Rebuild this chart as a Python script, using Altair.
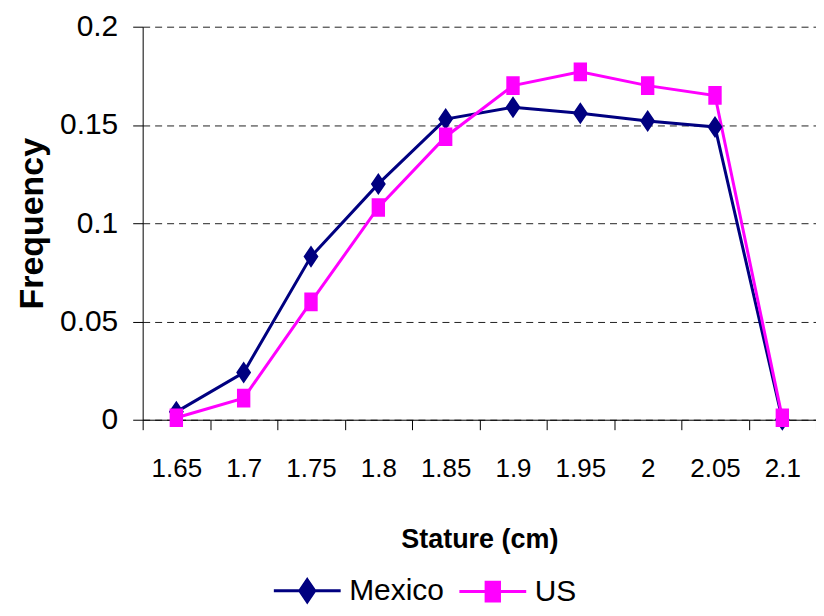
import altair as alt
import pandas as pd

# ---- data ----
stature = ["1.65", "1.7", "1.75", "1.8", "1.85", "1.9", "1.95", "2", "2.05", "2.1"]
mexico = [0.004, 0.024, 0.083, 0.120, 0.153, 0.159, 0.156, 0.152, 0.149, 0.000]
us = [0.001, 0.011, 0.060, 0.108, 0.144, 0.170, 0.177, 0.170, 0.165, 0.001]
series_names = ["Mexico", "US"]
series_colors = ["#000080", "#FF00FF"]
y_ticks = [0, 0.05, 0.1, 0.15, 0.2]

rows = []
for name, vals in zip(series_names, [mexico, us]):
    for s, v in zip(stature, vals):
        rows.append({"stature": s, "freq": v, "series": name})
df = pd.DataFrame(rows)

FONT = "Liberation Sans, Arial, sans-serif"

# marker shapes: an (unstroked in the plot) line segment plus the filled marker,
# so the same path gives the "line + marker" legend symbol
SYM_MEX = "M-1,0L1,0M0,-0.33L0.224,0L0,0.33L-0.224,0Z"
SYM_US = "M-1,0L1,0M-0.2,-0.28L0.2,-0.28L0.2,0.28L-0.2,0.28Z"

LEGEND = alt.Legend(
    orient="none", legendX=130, legendY=530, direction="horizontal",
    title=None, symbolSize=4489, symbolStrokeWidth=3,
    labelFontSize=30, labelFont=FONT, labelColor="black",
    labelOffset=7, columnPadding=8, padding=0,
)

x = alt.X(
    "stature:O", sort=stature,
    scale=alt.Scale(type="band", paddingInner=0, paddingOuter=0),
    axis=alt.Axis(
        tickBand="extent", labelAngle=0, labelFontSize=26, labelFont=FONT,
        labelPadding=39, labelBaseline="middle", tickSize=10, grid=False,
        title="Stature (cm)", titleFontSize=27, titleFont=FONT, titleFontWeight="bold",
        titleY=120, titleBaseline="middle",
        domainColor="black", tickColor="black", labelColor="black", titleColor="black",
    ),
)
y_axis = alt.Axis(
    values=y_ticks, format="~g", grid=True, gridDash=[7, 5], gridColor="#222222",
    tickSize=10, labelFontSize=30, labelFont=FONT, labelPadding=15, labelBaseline="middle",
    title="Frequency", titleFontSize=34, titleFont=FONT, titleFontWeight="bold",
    titleX=-110, titleY=197, titleAngle=270, titleBaseline="middle", titleAlign="center",
    domainColor="black", tickColor="black", labelColor="black", titleColor="black",
)
y_scale = alt.Scale(domain=[0, 0.2], nice=False, zero=True)
y = alt.Y("freq:Q", scale=y_scale, axis=y_axis)

color = alt.Color("series:N", scale=alt.Scale(domain=series_names, range=series_colors), legend=LEGEND)
shape = alt.Shape("series:N", scale=alt.Scale(domain=series_names, range=[SYM_MEX, SYM_US]), legend=LEGEND)

lines = alt.Chart(df).mark_line(strokeWidth=3).encode(x=x, y=y, color=color, detail="series:N")

points = alt.Chart(df).mark_point(
    filled=True, opacity=1, size=4489, strokeWidth=0
).encode(x=x, y=y, color=color, shape=shape)

chart = (
    alt.layer(lines, points)
    .properties(
        width=675, height=394,
        autosize=alt.AutoSizeParams(type="none"),
        padding={"left": 135, "top": 18, "right": 0, "bottom": 188},
    )
    .configure_view(stroke=None)
)

chart.save("out.html", embed_options={"renderer": "svg", "actions": False})
